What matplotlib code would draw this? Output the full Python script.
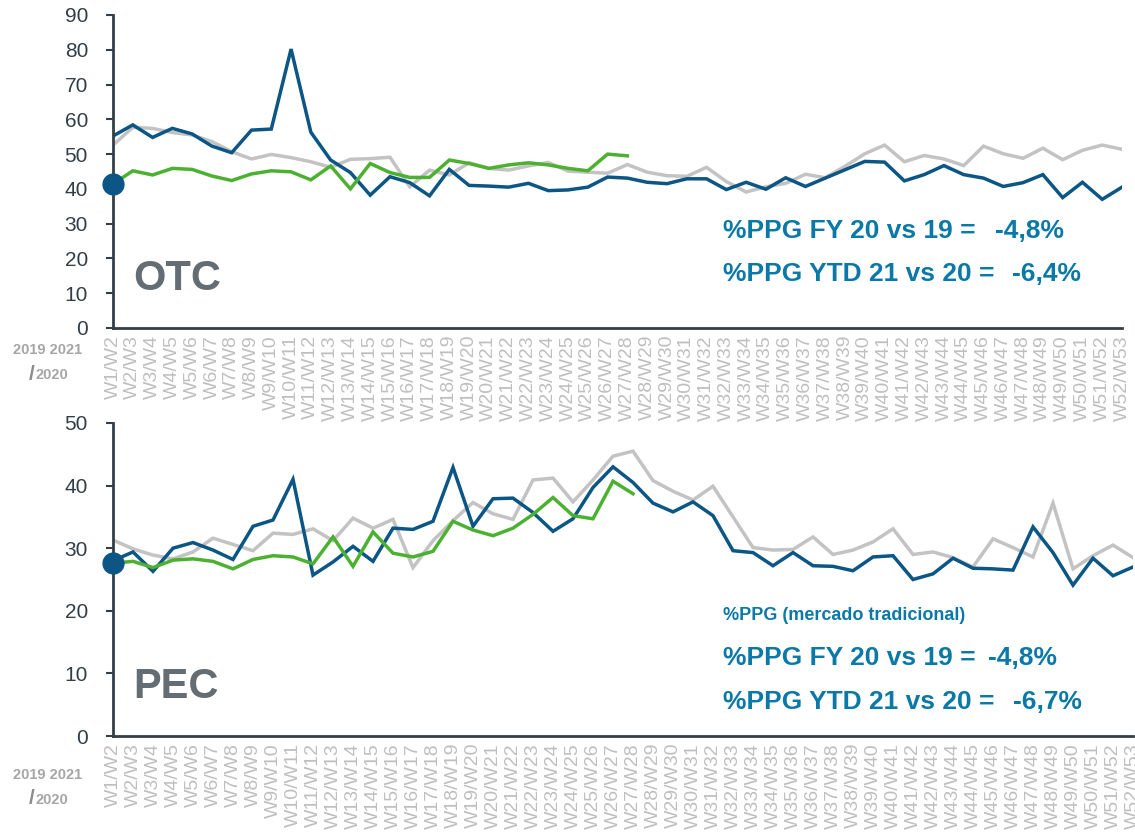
import matplotlib
matplotlib.use("Agg")
import matplotlib.pyplot as plt

plt.rcParams['font.family'] = ['Liberation Sans', 'DejaVu Sans']

weeks = [f"W{i}/W{i + 1}" for i in range(1, 53)]

# OTC
otc_2019 = [52.6, 57.7, 57.4, 56.2, 55.5, 53.6, 50.7, 48.6, 49.9, 49.0,
            47.8, 46.2, 48.5, 48.7, 49.1, 40.6, 45.4, 44.0, 47.5, 45.9,
            45.4, 46.6, 47.6, 45.1, 44.8, 44.5, 47.0, 44.8, 43.8, 43.6,
            46.2, 42.1, 39.1, 40.6, 41.6, 44.2, 43.2, 46.5, 50.1, 52.6,
            47.8, 49.6, 48.6, 46.7, 52.3, 50.1, 48.8, 51.7, 48.4, 51.1,
            52.6, 51.4]
otc_2020 = [55.2, 58.4, 54.8, 57.4, 55.8, 52.3, 50.4, 56.9, 57.2, 80.2,
            56.3, 48.3, 44.7, 38.2, 43.5, 41.8, 38.0, 45.6, 41.0, 40.8,
            40.5, 41.6, 39.5, 39.7, 40.5, 43.4, 43.1, 41.9, 41.5, 42.9,
            42.9, 39.8, 41.9, 39.9, 43.2, 40.7, 43.1, 45.5, 47.9, 47.7,
            42.3, 44.1, 46.7, 44.1, 43.1, 40.7, 41.8, 44.1, 37.5, 41.9,
            37.0, 40.5]
otc_2021 = [41.4, 45.2, 44.0, 45.9, 45.6, 43.7, 42.4, 44.3, 45.2, 44.9,
            42.6, 46.6, 40.0, 47.3, 44.7, 43.3, 43.3, 48.3, 47.3, 45.9,
            46.9, 47.5, 46.9, 45.9, 45.2, 50.0, 49.5]

# PEC
pec_2019 = [31.3, 29.9, 28.9, 28.3, 29.4, 31.6, 30.6, 29.6, 32.4, 32.2,
            33.1, 31.2, 34.8, 33.2, 34.6, 26.9, 31.2, 34.4, 37.3, 35.5,
            34.6, 40.9, 41.2, 37.4, 40.9, 44.7, 45.5, 40.8, 39.1, 37.7,
            39.9, 35.0, 30.1, 29.7, 29.8, 31.8, 29.0, 29.7, 31.0, 33.1,
            29.0, 29.4, 28.5, 27.0, 31.5, 30.1, 28.6, 37.2, 26.7, 28.8,
            30.5, 28.5]
pec_2020 = [28.0, 29.4, 26.3, 30.0, 30.9, 29.7, 28.2, 33.5, 34.5, 41.0,
            25.7, 27.8, 30.3, 27.9, 33.2, 33.0, 34.3, 42.9, 33.5, 37.9,
            38.0, 35.7, 32.7, 34.7, 39.7, 43.0, 40.5, 37.2, 35.8, 37.4,
            35.2, 29.6, 29.3, 27.2, 29.3, 27.2, 27.1, 26.4, 28.6, 28.8,
            25.0, 25.9, 28.4, 26.8, 26.7, 26.5, 33.4, 29.3, 24.1, 28.4,
            25.6, 27.0]
pec_2021 = [27.6, 27.9, 26.9, 28.1, 28.3, 27.9, 26.7, 28.2, 28.8, 28.6,
            27.5, 31.8, 27.1, 32.6, 29.2, 28.6, 29.5, 34.3, 32.9, 32.0,
            33.2, 35.4, 38.1, 35.2, 34.7, 40.7, 38.7]

otc_notes = [("%PPG FY 20 vs 19 =", "-4,8%", 231, 995),
             ("%PPG YTD 21 vs 20 =", "-6,4%", 274, 1012)]
pec_notes = [("%PPG FY 20 vs 19 =", "-4,8%", 658, 988),
             ("%PPG YTD 21 vs 20 =", "-6,7%", 702, 1013)]

W, H = 1135, 839
C_GRAY = '#c3c3c3'
C_BLUE = '#0b5685'
C_GREEN = '#4cb131'
C_TEXT = '#0b79a7'
C_AXIS = '#333f48'


def fx(x):
    return x / W


def fy(y):
    return 1 - y / H


fig = plt.figure(figsize=(W / 100, H / 100), dpi=100)
ax1 = fig.add_axes([fx(113), fy(328), (1122 - 113) / W, 313 / H])
ax2 = fig.add_axes([fx(113), fy(736), (1133 - 113) / W, 313 / H])


def draw(ax, g, b, gr, ymax, name):
    x = list(range(len(weeks)))
    ax.plot(x, g, color=C_GRAY, lw=2.5, solid_joinstyle='miter')
    ax.plot(x, b, color=C_BLUE, lw=2.5, solid_joinstyle='miter')
    ax.plot(x[:len(gr)], gr, color=C_GREEN, lw=2.5, solid_joinstyle='miter')
    ax.plot([0], [gr[0]], 'o', color=C_BLUE, ms=15, clip_on=False, zorder=5)
    ax.set_xlim(0, len(weeks) - 1)
    ax.set_ylim(0, ymax)
    ax.set_yticks(range(0, ymax + 1, 10))
    ax.set_xticks(x)
    ax.set_xticklabels(weeks, rotation=90, color='#bfbfbf', fontsize=14)
    ax.tick_params(axis='x', length=0, pad=5)
    ax.tick_params(axis='y', length=5, width=1.5, color=C_AXIS,
                   labelsize=15, labelcolor=C_AXIS, pad=13)
    for s in ['top', 'right']:
        ax.spines[s].set_visible(False)
    for s in ['left', 'bottom']:
        ax.spines[s].set_color(C_AXIS)
        ax.spines[s].set_linewidth(2)
    ax.text(0.02, 0.155, name, transform=ax.transAxes, fontsize=30,
            fontweight='bold', color='#646d73', va='center')


draw(ax1, otc_2019, otc_2020, otc_2021, 90, 'OTC')
draw(ax2, pec_2019, pec_2020, pec_2021, 50, 'PEC')

for label, val, y, xv in otc_notes + pec_notes:
    fig.text(fx(723), fy(y), label, fontsize=19, fontweight='bold',
             color=C_TEXT, va='center')
    fig.text(fx(xv), fy(y), val, fontsize=19, fontweight='bold',
             color=C_TEXT, va='center')

fig.text(fx(723), fy(616), "%PPG (mercado tradicional)", fontsize=13,
         fontweight='bold', color=C_TEXT, va='center')

for y0 in (350, 775):
    fig.text(fx(13), fy(y0), "2019 2021", fontsize=10.5, fontweight='bold',
             color='#a6a6a6', va='center')
    fig.text(fx(29), fy(y0 + 24), "/", fontsize=15, fontweight='bold',
             color='#8c8c8c', va='center')
    fig.text(fx(36), fy(y0 + 25), "2020", fontsize=10.5, fontweight='bold',
             color='#a6a6a6', va='center')

fig.savefig('out.png', dpi=100)
